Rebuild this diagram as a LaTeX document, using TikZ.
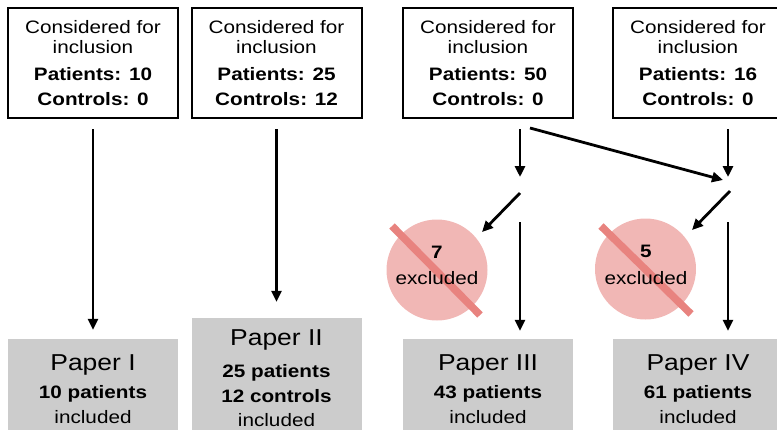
\documentclass[tikz,border=0pt]{standalone}
\usepackage{fontspec}
\setmainfont{Liberation Sans}[FakeStretch=1.15]
\usetikzlibrary{arrows.meta}
\definecolor{boxgray}{HTML}{CCCCCC}
\definecolor{excl}{HTML}{F1B7B5}
\definecolor{strikec}{HTML}{E8837F}
\begin{document}
\begin{tikzpicture}[x=1pt,y=-1pt,
  topbox/.style={draw=black, line width=2pt, minimum width=170pt, minimum height=110pt, inner sep=0pt},
  paperbox/.style={fill=boxgray, draw=none, minimum width=170pt, inner sep=0pt},
  txt/.style={anchor=base, inner sep=0pt, font=\fontsize{18}{20}\selectfont},
  btxt/.style={anchor=base, inner sep=0pt, font=\fontsize{18}{20}\selectfont\bfseries},
  ttl/.style={anchor=base, inner sep=0pt, font=\fontsize{23}{26}\selectfont},
  arr/.style={line width=2.8pt, -{Triangle[length=11pt,width=10pt]}},
  exclc/.style={circle, fill=excl, draw=none, minimum size=101pt, inner sep=0pt},
  strk/.style={strikec, line width=7.5pt},
  ]
\useasboundingbox (0,0) rectangle (777,429);
\clip (0,0) rectangle (777,429);

% top boxes
\node[topbox] (b1) at (93,63) {};
\node[topbox] (b2) at (276.5,63) {};
\node[topbox] (b3) at (488,63) {};
\node[topbox] (b4) at (698,63) {};
\foreach \n/\x/\p/\c in {1/93/10/0, 2/276.5/25/12, 3/488/50/0, 4/698/16/0}{
  \node[txt] (b\n l1) at (\x,33) {Considered for};
  \node[txt] (b\n l2) at (\x,53) {inclusion};
  \node[btxt] (b\n l3) at (\x,80) {Patients: \p};
  \node[btxt] (b\n l4) at (\x,105) {Controls: \c};
}

% paper boxes
\node[paperbox, minimum height=101pt] (p1) at (93,389.5) {};
\node[paperbox, minimum height=122pt] (p2) at (276.5,379) {};
\node[paperbox, minimum height=101pt] (p3) at (488,389.5) {};
\node[paperbox, minimum height=101pt] (p4) at (698,389.5) {};

\node[ttl] (p1t) at (93,370) {Paper I};
\node[btxt] (p1a) at (93,398) {10 patients};
\node[txt] (p1b) at (93,423) {included};

\node[ttl] (p2t) at (276.5,345) {Paper II};
\node[btxt] (p2a) at (276.5,377) {25 patients};
\node[btxt] (p2c) at (276.5,402) {12 controls};
\node[txt] (p2b) at (276.5,426) {included};

\node[ttl] (p3t) at (488,370) {Paper III};
\node[btxt] (p3a) at (488,398) {43 patients};
\node[txt] (p3b) at (488,423) {included};

\node[ttl] (p4t) at (698,370) {Paper IV};
\node[btxt] (p4a) at (698,398) {61 patients};
\node[txt] (p4b) at (698,423) {included};

% excluded circles
\node[exclc] (c1) at (437,270) {};
\node[exclc] (c2) at (645.5,269) {};
\draw[strk] (392,226) -- (480,315);
\draw[strk] (601,226) -- (691,314);
\node[btxt] (c1n) at (437,258) {7};
\node[txt] (c1e) at (437,284) {excluded};
\node[btxt] (c2n) at (646,257) {5};
\node[txt] (c2e) at (646,284) {excluded};

% split points
\coordinate (s3a) at (520,177);
\coordinate (s3b) at (520,193);
\coordinate (s3c) at (520,222);
\coordinate (s3d) at (482,232);
\coordinate (s4a) at (723,180);
\coordinate (s4b) at (730,191);
\coordinate (s4c) at (728,222);
\coordinate (s4d) at (728,177);
\coordinate (s4e) at (692,230);

% arrows
\draw[arr] ([yshift=-10pt]b1.south) -- ([yshift=9pt]p1.north);
\draw[arr] ([yshift=-10pt]b2.south) -- ([yshift=16pt]p2.north);
\draw[arr] ([xshift=32pt,yshift=-10pt]b3.south) -- (s3a);
\draw[arr] ([xshift=42pt,yshift=-9pt]b3.south) -- (s4a);
\draw[arr] ([xshift=30pt,yshift=-10pt]b4.south) -- (s4d);
\draw[arr] (s3b) -- (s3d);
\draw[arr] (s4b) -- (s4e);
\draw[arr] (s3c) -- ([xshift=32pt,yshift=8pt]p3.north);
\draw[arr] (s4c) -- ([xshift=30pt,yshift=8pt]p4.north);
\end{tikzpicture}
\end{document}
